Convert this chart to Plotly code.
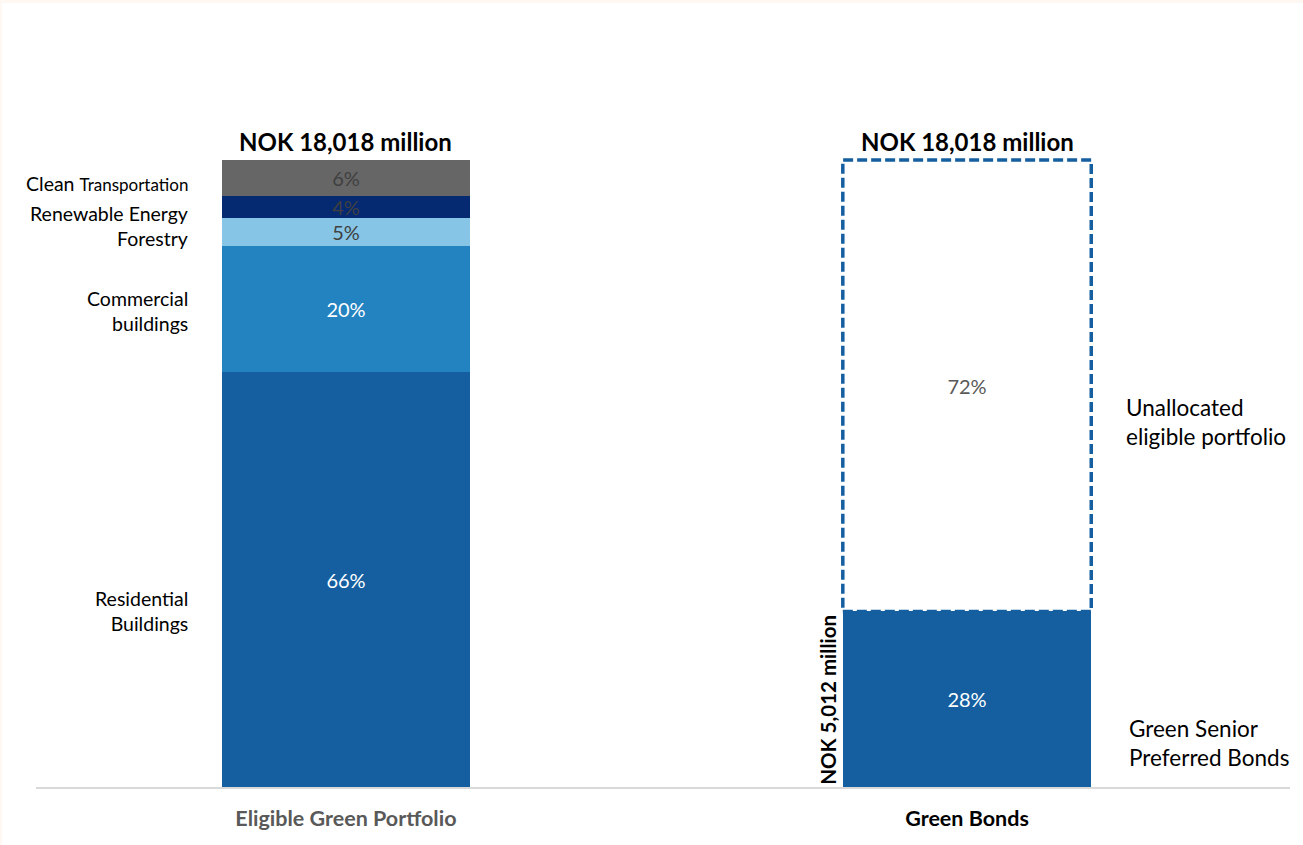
import plotly.graph_objects as go

# ---- data ----
categories = ["Eligible Green Portfolio", "Green Bonds"]
portfolio_segments = ["Residential Buildings", "Commercial buildings", "Forestry", "Renewable Energy", "Clean Transportation"]
portfolio_values = [66.2, 20.1, 4.5, 3.5, 5.7]
portfolio_labels = ["66%", "20%", "5%", "4%", "6%"]
bond_segments = ["Green Senior Preferred Bonds", "Unallocated eligible portfolio"]
bond_values = [28.0, 72.0]
bond_labels = ["28%", "72%"]
total_label = "NOK 18,018 million"
bond_amount_label = "NOK 5,012 million"

# ---- styles ----
FONT = "Lato"
portfolio_colors = ["#155FA0", "#2383C0", "#87C5E6", "#052A72", "#666666"]
portfolio_text_colors = ["#FFFFFF", "#FFFFFF", "#404040", "#404040", "#404040"]
bond_colors = ["#155FA0", "#FFFFFF"]
bond_text_colors = ["#FFFFFF", "#595959"]
BAR_W = 0.4
PCT_SIZE = 20

fig = go.Figure()
for name, v, lab, c, tc in zip(portfolio_segments, portfolio_values, portfolio_labels,
                               portfolio_colors, portfolio_text_colors):
    fig.add_trace(go.Bar(x=[categories[0]], y=[v], name=name, text=[lab],
                         marker=dict(color=c, line=dict(width=0)),
                         textposition="inside", insidetextanchor="middle",
                         textfont=dict(color=tc, size=PCT_SIZE, family=FONT),
                         width=BAR_W, showlegend=False, hoverinfo="name+y"))
for name, v, lab, c, tc in zip(bond_segments, bond_values, bond_labels, bond_colors, bond_text_colors):
    fig.add_trace(go.Bar(x=[categories[1]], y=[v], name=name, text=[lab],
                         marker=dict(color=c, line=dict(width=0)),
                         textposition="inside", insidetextanchor="middle",
                         textfont=dict(color=tc, size=PCT_SIZE, family=FONT),
                         width=BAR_W, showlegend=False, hoverinfo="name+y"))

total = sum(portfolio_values)
cum = []
s = 0
for v in portfolio_values:
    cum.append((s, s + v))
    s += v
bcum = []
s = 0
for v in bond_values:
    bcum.append((s, s + v))
    s += v

shapes = []
# cream page edge + white page body
shapes.append(dict(type="rect", xref="paper", yref="paper",
                   x0=(2 - 36) / 1254, x1=(1303 - 36) / 1254,
                   y0=(787 - 845) / 747, y1=(787 - 3) / 747,
                   fillcolor="white", line=dict(width=0), layer="below"))
# dashed outline of unallocated part
shapes.append(dict(type="rect", xref="x", yref="y",
                   x0=1 - BAR_W / 2, x1=1 + BAR_W / 2,
                   y0=bcum[1][0], y1=bcum[1][1],
                   line=dict(color="#155FA0", width=3.5, dash="10px,4px"),
                   fillcolor="rgba(0,0,0,0)", layer="above"))

ann = []
# totals on top
for i in range(2):
    ann.append(dict(x=i, y=total, xref="x", yref="y", text="<b>" + total_label + "</b>",
                    showarrow=False, yanchor="bottom", yshift=2,
                    font=dict(family=FONT, size=24, color="#000000")))
# left side labels
left_texts = ["Residential<br>Buildings", "Commercial<br>buildings", "Forestry",
              "Renewable Energy", "Clean <span style='font-size:17px'>Transportation</span>"]
left_shifts = [-32, -2, -7, -7, -6]
for (a, b), t, ys in zip(cum, left_texts, left_shifts):
    ann.append(dict(x=-BAR_W / 2, y=(a + b) / 2, xref="x", yref="y", text=t,
                    showarrow=False, xanchor="right", align="right", xshift=-32, yshift=ys,
                    font=dict(family=FONT, size=19.5, color="#000000")))
# right side labels
right_texts = ["Green Senior<br>Preferred Bonds", "Unallocated<br>eligible portfolio"]
right_shifts = [-44, -36]
right_x = [36, 33]
for (a, b), t, ys, xs in zip(bcum, right_texts, right_shifts, right_x):
    ann.append(dict(x=1 + BAR_W / 2, y=(a + b) / 2, xref="x", yref="y", text=t,
                    showarrow=False, xanchor="left", align="left", xshift=xs, yshift=ys,
                    font=dict(family=FONT, size=22.5, color="#000000")))
# rotated amount label
ann.append(dict(x=1 - BAR_W / 2, y=0, xref="x", yref="y", text="<b>" + bond_amount_label + "</b>",
                showarrow=False, textangle=-90, xanchor="right", yanchor="bottom", xshift=-1,
                font=dict(family=FONT, size=20.5, color="#000000")))

tick_text = ["<span style='color:#595959'><b>" + categories[0] + "</b></span>",
             "<b>" + categories[1] + "</b>"]

fig.update_layout(
    width=1303, height=845,
    margin=dict(l=36, r=13, t=40, b=58),
    paper_bgcolor="#FFF8F2", plot_bgcolor="white",
    barmode="stack", bargap=0,
    uniformtext=dict(minsize=PCT_SIZE, mode="show"),
    shapes=shapes, annotations=ann,
    font=dict(family=FONT, size=17, color="#000000"),
    xaxis=dict(type="category", range=[-0.499, 1.52], showline=True, linecolor="#D9D9D9",
               linewidth=2, showgrid=False, zeroline=False,
               tickvals=categories, ticktext=tick_text, ticks="outside", ticklen=11,
               tickcolor="rgba(0,0,0,0)", tickfont=dict(family=FONT, size=21.5)),
    yaxis=dict(range=[0, 100 * 747 / 627], visible=False, showgrid=False, zeroline=False),
)

fig.write_html("out.html", config={"displayModeBar": False},
               post_script="document.body.style.margin='0';")
